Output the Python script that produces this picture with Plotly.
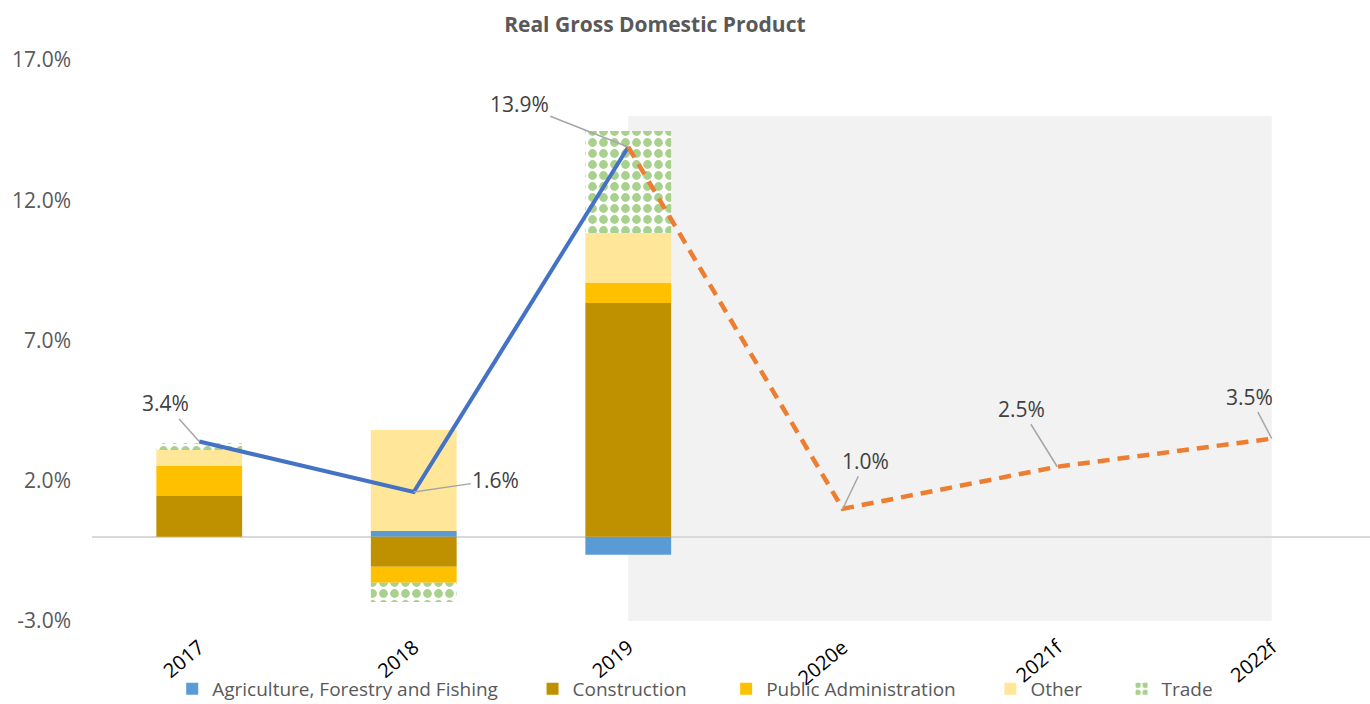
import plotly.graph_objects as go

# Categories (years; e = estimate, f = forecast)
years = ["2017", "2018", "2019", "2020e", "2021f", "2022f"]
bar_years = ["2017", "2018", "2019"]

# Sector contributions to real GDP growth, percentage points
agriculture = [0.0, 0.21, -0.64]
construction = [1.46, -1.07, 8.34]
public_admin = [1.07, -0.57, 0.71]
other = [0.57, 3.60, 1.78]
trade = [0.25, -0.68, 3.64]

# Real GDP growth, %
actual_years = ["2017", "2018", "2019"]
actual_growth = [3.4, 1.6, 13.9]
outlook_years = ["2019", "2020e", "2021f", "2022f"]
outlook_growth = [13.9, 1.0, 2.5, 3.5]

# Y axis ticks
y_ticks = [-3, 2, 7, 12, 17]
y_tick_text = ["-3.0%", "2.0%", "7.0%", "12.0%", "17.0%"]

FONT = "Open Sans, Segoe UI, Liberation Sans, sans-serif"
GREY_TEXT = "#595959"
NB = "\u00a0"

fig = go.Figure()

# (legend name, values, colour, pattern, legend padding)
series = [
    ("Agriculture, Forestry and Fishing", agriculture, "#5B9BD5", None, 6),
    ("Construction", construction, "#BF9000", None, 7),
    ("Public Administration", public_admin, "#FFC000", None, 6),
    ("Other", other, "#FFE699", None, 7),
    ("Trade", trade, "#A9D18E",
     dict(shape=".", fgcolor="#A9D18E", fgopacity=1, bgcolor="#FFFFFF",
          size=11, solidity=0.5), 0),
]
for name, vals, color, pattern, pad in series:
    marker = dict(color=color if pattern is None else "#FFFFFF", line=dict(width=0))
    if pattern is not None:
        marker["pattern"] = pattern
    fig.add_trace(go.Bar(x=bar_years, y=vals, name=name + NB * pad,
                         marker=marker, width=0.4))

fig.add_trace(go.Scatter(
    x=actual_years, y=actual_growth, mode="lines", showlegend=False,
    line=dict(color="#4472C4", width=4), hoverinfo="skip"))
fig.add_trace(go.Scatter(
    x=outlook_years, y=outlook_growth, mode="lines", showlegend=False,
    line=dict(color="#ED7D31", width=4.5, dash="12px,8px"), hoverinfo="skip"))

# Shaded projection period
fig.add_shape(type="rect", xref="x", yref="y", x0=2, x1=5, y0=-3, y1=15,
              fillcolor="#F2F2F2", line=dict(width=0), layer="below")

# Data labels with leader lines
label_offsets = {
    "2017": (-34, -38),
    "2018": (82, -12),
    "2019": (-109, -43),
    "2020e": (23, -48),
    "2021f": (-36, -58),
    "2022f": (-22, -42),
}
points = list(zip(actual_years, actual_growth)) + list(zip(outlook_years[1:], outlook_growth[1:]))
for yr, val in points:
    ax, ay = label_offsets[yr]
    fig.add_annotation(
        x=years.index(yr), y=val, text=f"{val:.1f}%", showarrow=True, arrowhead=0,
        arrowwidth=1.5, arrowcolor="#A6A6A6", ax=ax, ay=ay, standoff=0,
        font=dict(family=FONT, size=21, color="#404040"))

fig.update_layout(
    width=1370, height=704,
    margin=dict(l=92, r=0, t=60, b=83),
    paper_bgcolor="#FFFFFF", plot_bgcolor="#FFFFFF",
    barmode="relative",
    font=dict(family=FONT, size=20, color=GREY_TEXT),
    title=dict(text="<b>Real Gross Domestic Product</b>", x=0.478, xanchor="center",
               y=1 - 25 / 704, yanchor="middle",
               font=dict(family=FONT, size=21, color=GREY_TEXT)),
    legend=dict(orientation="h", x=0.472, xanchor="center",
                yref="container", y=15 / 704, yanchor="middle",
                font=dict(family=FONT, size=19, color=GREY_TEXT),
                bgcolor="rgba(0,0,0,0)", traceorder="normal"),
    showlegend=True,
)
fig.update_xaxes(
    type="category", categoryorder="array", categoryarray=years,
    range=[-0.5, 5.458], showgrid=False, zeroline=False, showline=False,
    tickangle=-40, tickfont=dict(family=FONT, size=20, color="#000000"),
    ticklabelstandoff=10, automargin=False, ticks="")
fig.update_yaxes(
    range=[-3, 17], tickvals=y_ticks, ticktext=y_tick_text,
    showgrid=False, zeroline=True, zerolinecolor="#D9D9D9", zerolinewidth=2,
    showline=False, ticks="", ticklabelstandoff=20, automargin=False,
    tickfont=dict(family=FONT, size=21, color=GREY_TEXT))

fig.write_html("out.html")
